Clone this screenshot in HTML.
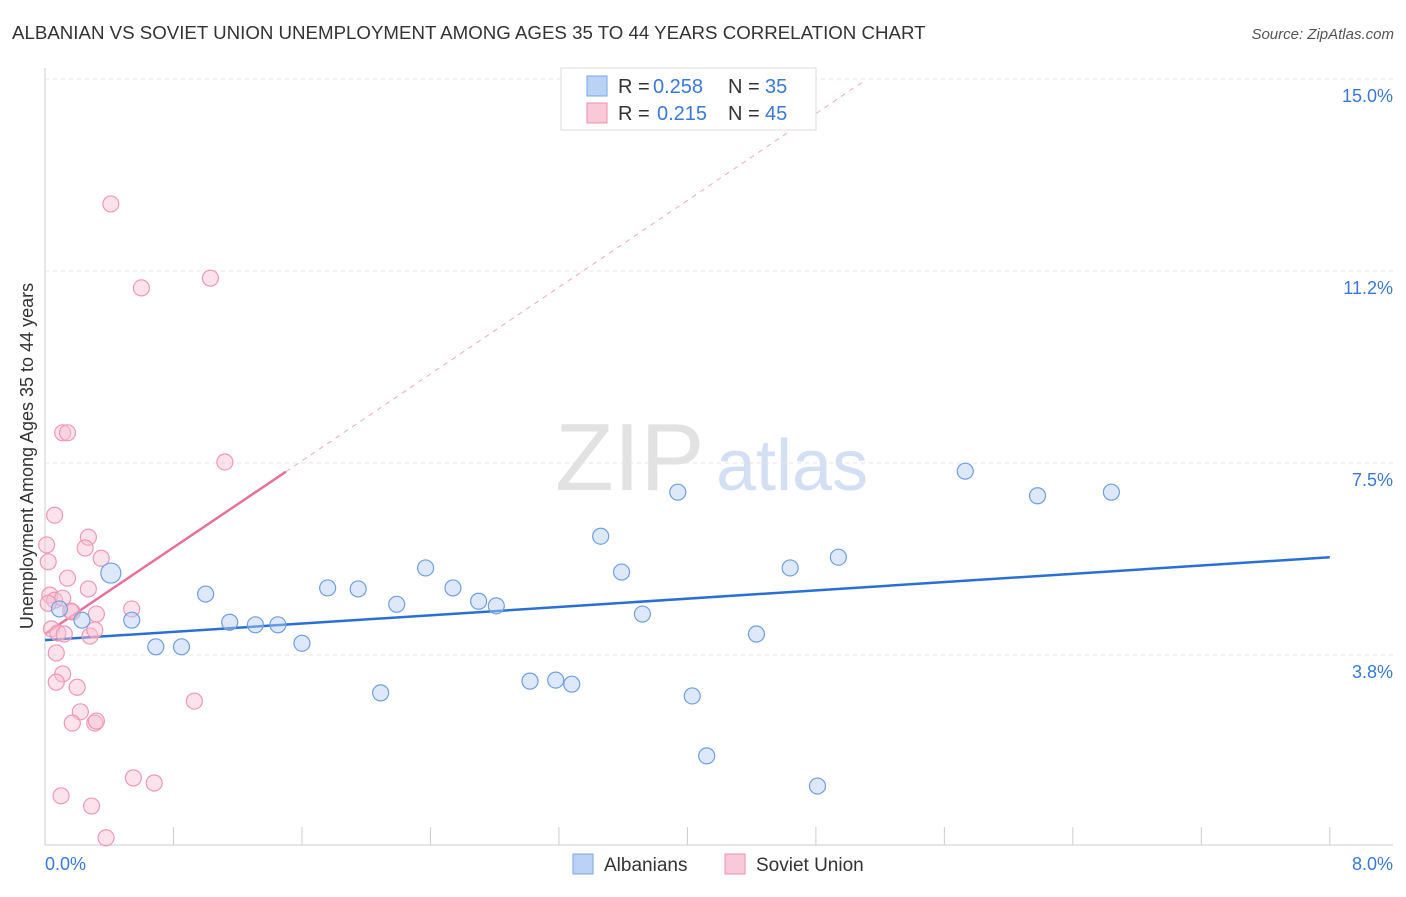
<!DOCTYPE html>
<html><head><meta charset="utf-8">
<style>
body{margin:0;background:#fff;font-family:"Liberation Sans",sans-serif;}
svg text{font-family:"Liberation Sans",sans-serif;}
</style></head>
<body>
<svg id="chart" width="1406" height="892" xmlns="http://www.w3.org/2000/svg">
<text x="12" y="39" font-size="18.7" fill="#333">ALBANIAN VS SOVIET UNION UNEMPLOYMENT AMONG AGES 35 TO 44 YEARS CORRELATION CHART</text>
<text x="1394" y="39" font-size="15" fill="#555" text-anchor="end" font-style="italic">Source: ZipAtlas.com</text>
<text x="555" y="490" font-size="96" fill="#e2e2e2" font-family="Liberation Serif">ZIP</text>
<text x="716" y="490" font-size="72" fill="#d3e0f4">atlas</text>
<text transform="translate(33,456) rotate(-90)" font-size="18" fill="#333" text-anchor="middle">Unemployment Among Ages 35 to 44 years</text>
<g id="grid"></g><g id="axes"></g><g id="lines"></g><g id="points"></g>
<g>
<rect x="561" y="68" width="255" height="62" fill="#fff" stroke="#ddd"/>
<rect x="587" y="76" width="20" height="20" fill="#b9d2f5" stroke="#7aa5e6"/>
<text x="618" y="93" font-size="20" fill="#333">R =</text>
<text x="653" y="93" font-size="20" fill="#3a78d8">0.258</text>
<text x="728" y="93" font-size="20" fill="#333">N =</text>
<text x="765" y="93" font-size="20" fill="#3a78d8">35</text>
<rect x="587" y="103" width="20" height="20" fill="#f9c9d8" stroke="#ee8fb0"/>
<text x="618" y="120" font-size="20" fill="#333">R =</text>
<text x="657" y="120" font-size="20" fill="#3a78d8">0.215</text>
<text x="728" y="120" font-size="20" fill="#333">N =</text>
<text x="765" y="120" font-size="20" fill="#3a78d8">45</text>
</g>
<g>
<rect x="573" y="854" width="20" height="20" fill="#b9d2f5" stroke="#7aa5e6"/>
<text x="604" y="871" font-size="19" fill="#333">Albanians</text>
<rect x="725" y="854" width="20" height="20" fill="#f9c9d8" stroke="#ee8fb0"/>
<text x="756" y="871" font-size="19" fill="#333">Soviet Union</text>
</g>
</svg>
<script>
const yTicks=[3.75,7.5,11.25,15.0];
const yTickLabels=["3.8%","7.5%","11.2%","15.0%"];
const xTickCount=10;
const blueX=[0.41,0.23,0.54,0.69,0.85,1.00,1.15,1.31,1.45,1.60,1.76,1.95,2.09,2.19,2.37,2.54,2.70,2.81,3.02,3.18,3.28,3.46,3.59,3.72,3.94,4.03,4.12,4.43,4.64,4.81,4.94,5.73,6.18,6.64,0.09];
const blueY=[5.35,4.43,4.43,3.91,3.91,4.94,4.39,4.34,4.34,3.98,5.06,5.04,3.01,4.74,5.45,5.06,4.80,4.71,3.24,3.26,3.18,6.07,5.37,4.55,6.93,2.95,1.78,4.16,5.45,1.19,5.66,7.34,6.86,6.93,4.65];
const pinkX=[0.41,0.60,1.03,0.11,0.14,1.12,0.06,0.01,0.27,0.25,0.02,0.35,0.14,0.27,0.03,0.06,0.11,0.17,0.32,0.54,0.04,0.08,0.28,0.31,0.12,0.07,0.11,0.07,0.20,0.93,0.22,0.17,0.31,0.32,0.55,0.68,0.10,0.29,0.38,0.16,0.02];
const pinkY=[12.56,10.92,11.11,8.09,8.09,7.52,6.48,5.90,6.05,5.84,5.57,5.64,5.25,5.04,4.92,4.82,4.86,4.59,4.55,4.65,4.26,4.18,4.12,4.24,4.16,3.79,3.38,3.22,3.12,2.85,2.64,2.42,2.42,2.46,1.35,1.25,1.00,0.80,0.18,4.61,4.76];
const blueLine=[[0,4.04],[8,5.66]];
const pinkLine=[[0,4.16],[1.5,7.33]];
const pinkDash=[[1.5,7.33],[5.1,14.96]];
const X=v=>45+v*160.6, Y=v=>847-v*51.2;
const NS="http://www.w3.org/2000/svg";
function mk(tag,attrs,parent){const e=document.createElementNS(NS,tag);for(const k in attrs)e.setAttribute(k,attrs[k]);document.getElementById(parent).appendChild(e);return e;}
yTicks.forEach((t,i)=>{
 const l=mk('line',{x1:45,x2:1393,y1:Y(t),y2:Y(t),stroke:'#e4e4e4','stroke-dasharray':'4,4'},'grid');
 
 
 const tx=mk('text',{x:1393,y:Y(t)+23,'font-size':18,fill:'#3a78d8','text-anchor':'end'},'axes');
 tx.textContent=yTickLabels[i];
 
 
});
const ax=mk('line',{x1:45,x2:1393,y1:845,y2:845,stroke:'#ccc'},'axes');


const ay=mk('line',{x1:45,x2:45,y1:68,y2:845,stroke:'#ccc'},'axes');


for(let i=0;i<=xTickCount;i++){const v=i*8/xTickCount;const t=mk('line',{x1:X(v),x2:X(v),y1:827,y2:845,stroke:'#ccc'},'axes');
 
 }
const x0=mk('text',{x:45,y:870,'font-size':18,fill:'#3a78d8'},'axes');x0.textContent='0.0%';


const x1=mk('text',{x:1393,y:870,'font-size':18,fill:'#3a78d8','text-anchor':'end'},'axes');x1.textContent='8.0%';


function line(p,attrs,name){const l=mk('line',Object.assign({x1:X(p[0][0]),y1:Y(p[0][1]),x2:X(p[1][0]),y2:Y(p[1][1])},attrs),'lines');
 
 }
line(pinkDash,{stroke:'#f0a8c0','stroke-width':1,'stroke-dasharray':'5,5'},'soviet-trend-extension');
line(blueLine,{stroke:'#2a6fd4','stroke-width':2.5},'albanian-trend-line');
line(pinkLine,{stroke:'#e8709a','stroke-width':2.5},'soviet-trend-line');
pinkX.forEach((x,i)=>{const c=mk('circle',{cx:X(x),cy:Y(pinkY[i]),r:8,fill:'rgba(248,190,210,0.45)',stroke:'#ef98b6','stroke-width':1.2},'points');
 
 });
blueX.forEach((x,i)=>{const c=mk('circle',{cx:X(x),cy:Y(blueY[i]),r:i==0?10:8,fill:'rgba(180,205,245,0.45)',stroke:'#6f9fe0','stroke-width':1.2},'points');
 
 });
</script>
</body></html>
